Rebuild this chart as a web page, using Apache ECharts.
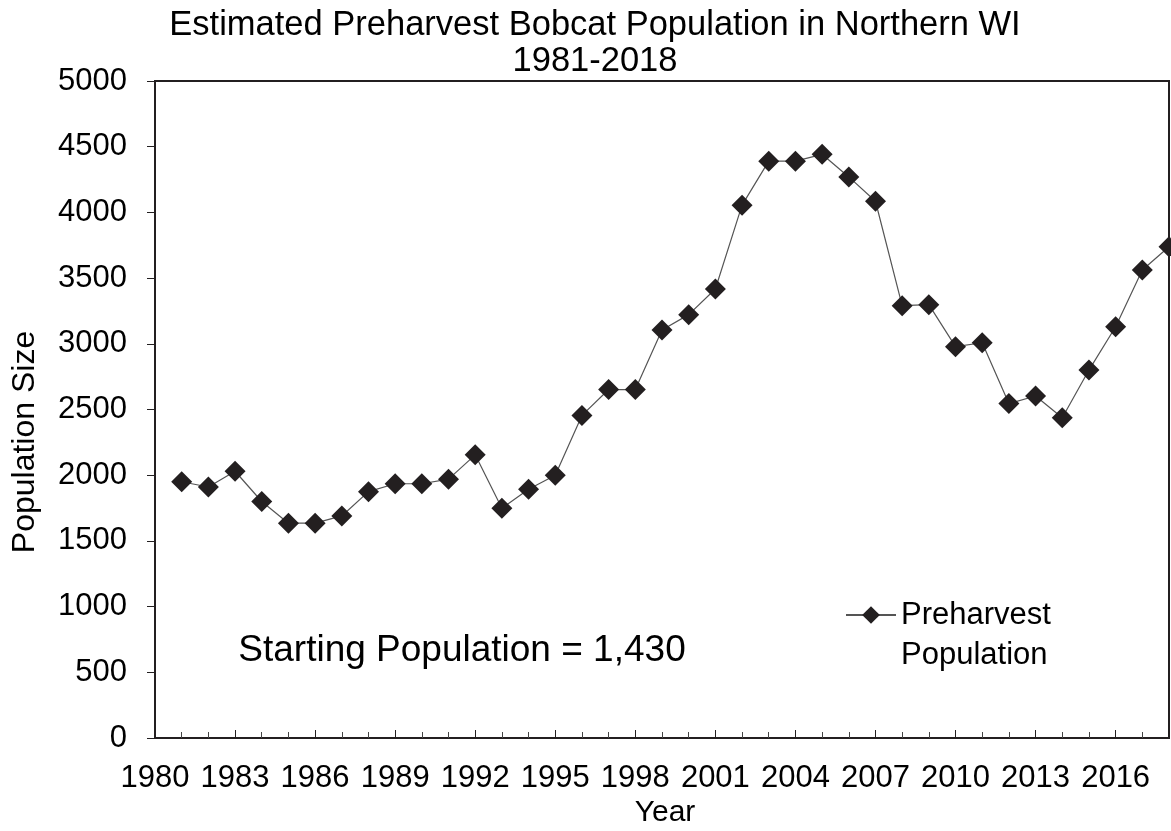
<!DOCTYPE html>
<html>
<head>
<meta charset="utf-8">
<script src="https://cdn.jsdelivr.net/npm/echarts@6/dist/echarts.min.js"></script>
<style>
  html, body { margin: 0; padding: 0; background: #fff; }
  #chart { width: 1171px; height: 831px; }
</style>
</head>
<body>
<div id="chart"></div>
<script>
// 北部WI山猫估计种群 1981-2018
const years = [
  1981, 1982, 1983, 1984, 1985, 1986, 1987, 1988, 1989, 1990,
  1991, 1992, 1993, 1994, 1995, 1996, 1997, 1998, 1999, 2000,
  2001, 2002, 2003, 2004, 2005, 2006, 2007, 2008, 2009, 2010,
  2011, 2012, 2013, 2014, 2015, 2016, 2017, 2018,
]
const population = [
  1950, 1910, 2030, 1800, 1635, 1635, 1690, 1875, 1935, 1935,
  1970, 2155, 1748, 1893, 2000, 2455, 2652, 2652, 3105, 3222,
  3417, 4055, 4390, 4390, 4442, 4270, 4085, 3290, 3298, 2978,
  3008, 2545, 2603, 2437, 2800, 3130, 3562, 3738,
]
const titleLines = ['Estimated Preharvest Bobcat Population in Northern WI', '1981-2018']
const seriesName = 'Preharvest\nPopulation'
const note = 'Starting Population = 1,430'

const font = '"Liberation Sans", Arial, sans-serif'
const ink = '#000'
const frame = '#231f20'

const chart = echarts.init(document.getElementById('chart'))

chart.setOption({
  animation: false,
  backgroundColor: '#fff',
  textStyle: {fontFamily: font},
  title: {
    text: titleLines.join('\n'),
    left: 595,
    top: 7,
    textAlign: 'center',
    padding: 0,
    textStyle: {fontFamily: font, fontSize: 34.5, fontWeight: 'normal', color: ink, lineHeight: 36},
  },
  grid: {
    left: 155, right: 2, top: 81, bottom: 93,
    show: true, borderColor: frame, borderWidth: 2,
  },
  legend: {
    left: 840,
    top: 550,
    itemWidth: 50,
    itemHeight: 22,
    // 空的首行让图标对齐第一行文字
    formatter: name => ' \n' + name,
    textStyle: {fontFamily: font, fontSize: 31, color: ink, lineHeight: 40},
    data: [seriesName],
  },
  xAxis: {
    type: 'value',
    min: 1980,
    max: 2018,
    interval: 3,
    axisLine: {lineStyle: {color: frame, width: 2}},
    axisTick: {inside: true, length: 8, lineStyle: {color: frame, width: 1}},
    minorTick: {show: true, splitNumber: 3, length: 6, lineStyle: {color: '#444', width: 1}},
    splitLine: {show: false},
    axisLabel: {
      fontSize: 31, color: ink, margin: 25, showMaxLabel: false,
      formatter: v => String(v),
    },
  },
  yAxis: {
    type: 'value',
    min: 0,
    max: 5000,
    interval: 500,
    axisLine: {show: true, lineStyle: {color: frame, width: 2}},
    axisTick: {show: true, inside: false, length: 8, lineStyle: {color: frame, width: 1}},
    splitLine: {show: false},
    axisLabel: {fontSize: 31, color: ink, margin: 28, formatter: v => String(v)},
  },
  graphic: [
    {
      type: 'text', x: 25, y: 442, rotation: Math.PI / 2,
      style: {text: 'Population Size', font: `32px ${font}`, fill: ink, align: 'center', verticalAlign: 'middle'},
    },
    {
      type: 'text', x: 665, y: 813,
      style: {text: 'Year', font: `30px ${font}`, fill: ink, align: 'center', verticalAlign: 'middle'},
    },
    {
      type: 'text', x: 462, y: 651,
      style: {text: note, font: `37px ${font}`, fill: ink, align: 'center', verticalAlign: 'middle'},
    },
  ],
  series: [
    {
      name: seriesName,
      type: 'line',
      data: years.map((y, i) => [y, population[i]]),
      symbol: 'diamond',
      symbolSize: 21,
      itemStyle: {color: frame},
      lineStyle: {color: '#555', width: 1.2},
      clip: true,
    },
  ],
})
</script>
</body>
</html>
